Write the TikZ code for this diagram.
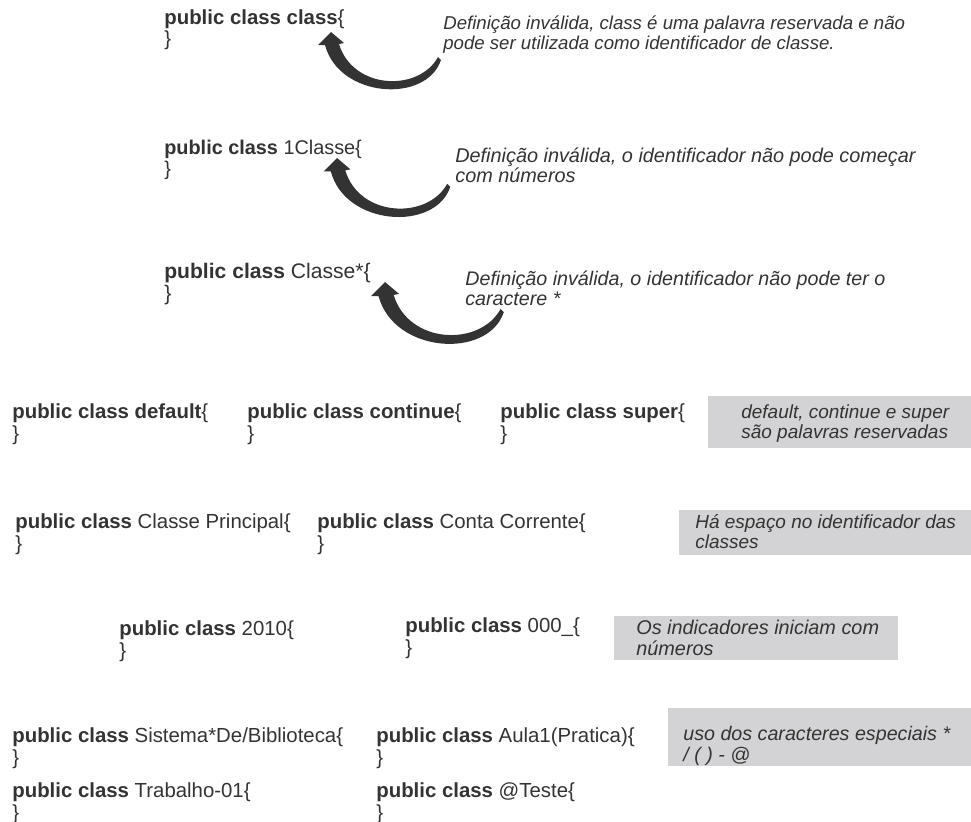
\documentclass[tikz,border=0pt]{standalone}
\usepackage{fontspec}
\setmainfont{Liberation Sans}
\definecolor{ink}{HTML}{333333}
\definecolor{boxgray}{HTML}{D3D3D5}
\begin{document}
\begin{tikzpicture}[x=0.02cm, y=-0.02cm,
  code/.style={anchor=north west, inner sep=0pt, align=left, text=ink,
    font=\fontsize{11.6}{12.2}\selectfont},
  remark/.style={anchor=north west, inner sep=0pt, align=left, text=ink,
    font=\fontsize{10.8}{11.4}\selectfont\itshape}]
\useasboundingbox (0,0) rectangle (971,822);
% invalid names with comment and bent arrow
\node[code] (c1) at (164,9) {\textbf{public class class}\{\\\}};
\node[remark, font=\fontsize{10.6}{11.4}\selectfont\itshape] (r1) at (443,15) {Definição inválida, class é uma palavra reservada e não\\pode ser utilizada como identificador de classe.};
\node[code, font=\fontsize{11.3}{12.2}\selectfont] (c2) at (164,139.5) {\textbf{public class} 1Classe\{\\\}};
\node[remark, font=\fontsize{11.3}{11.6}\selectfont\itshape] (r2) at (455,147.5) {Definição inválida, o identificador não pode começar\\com números};
\node[code, font=\fontsize{12}{12.6}\selectfont] (c3) at (164,263) {\textbf{public class} Classe*\{\\\}};
\node[remark, font=\fontsize{11.2}{11.6}\selectfont\itshape] (r3) at (465,270.5) {Definição inválida, o identificador não pode ter o\\caractere *};
\coordinate (tip1) at (331,32);
\coordinate (tip2) at (337,158);
\coordinate (tip3) at (385,282);
\foreach \t/\s in {tip1/1, tip2/1.03, tip3/1.08} {
  \fill[ink, shift={(\t)}, scale=\s] (0,0) -- (13,11) -- (8,12)
    .. controls (22,58) and (88,60) .. (107,25) -- (110,28)
    .. controls (95,72) and (8,66) .. (-6,13) -- (-13,13) -- cycle;
}
% reserved words
\node[code] (d1) at (12,403.5) {\textbf{public class default}\{\\\}};
\node[code] (d2) at (247,403.5) {\textbf{public class continue}\{\\\}};
\node[code] (d3) at (500,403.5) {\textbf{public class super}\{\\\}};
\fill[boxgray] (708,396) rectangle (971,448);
\node[remark] (n1) at (741,404) {default, continue e super\\são palavras reservadas};
% spaces in the name
\node[code] (e1) at (15,513.5) {\textbf{public class} Classe Principal\{\\\}};
\node[code] (e2) at (317,513.5) {\textbf{public class} Conta Corrente\{\\\}};
\fill[boxgray] (679,510) rectangle (971,555);
\node[remark] (n2) at (695,514) {Há espaço no identificador das\\classes};
% leading digits
\node[code] (f1) at (119,620.5) {\textbf{public class} 2010\{\\\}};
\node[code] (f2) at (405,617.5) {\textbf{public class} 000\_\{\\\}};
\fill[boxgray] (614,616) rectangle (898,660);
\node[remark, font=\fontsize{11.3}{11.6}\selectfont\itshape] (n3) at (636,620) {Os indicadores iniciam com\\números};
% special characters
\node[code] (g1) at (12,727.5) {\textbf{public class} Sistema*De/Biblioteca\{\\\}};
\node[code] (g2) at (376,727.5) {\textbf{public class} Aula1(Pratica)\{\\\}};
\node[code] (g3) at (12,782.5) {\textbf{public class} Trabalho-01\{\\\}};
\node[code] (g4) at (376,782.5) {\textbf{public class} @Teste\{\\\}};
\fill[boxgray] (668,708) rectangle (971,766);
\node[remark, font=\fontsize{11.2}{11.6}\selectfont\itshape] (n4) at (683,726) {uso dos caracteres especiais *\\/ ( ) - @};
\end{tikzpicture}
\end{document}
